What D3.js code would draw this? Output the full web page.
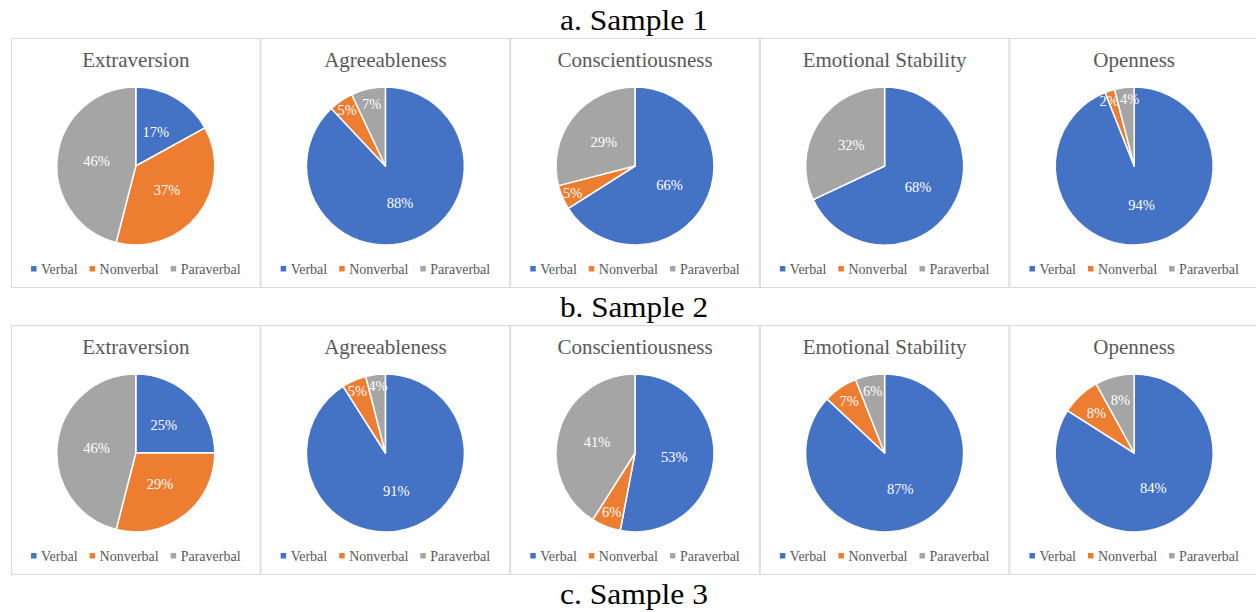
<!DOCTYPE html>
<html><head><meta charset="utf-8">
<script src="https://cdn.jsdelivr.net/npm/d3@7"></script>
<style>body{margin:0;background:#fff}svg{display:block}</style>
</head><body>
<svg id="c" width="1256" height="612"></svg>
<script>
const captions = ["a. Sample 1", "b. Sample 2", "c. Sample 3"];
const traits = ["Extraversion", "Agreeableness", "Conscientiousness", "Emotional Stability", "Openness"];
const categories = ["Verbal", "Nonverbal", "Paraverbal"];
const colors = ["#4472C4", "#ED7D31", "#A5A5A5"];
// Sample 1 (row 1) values in %, order Verbal, Nonverbal, Paraverbal
const sample1 = [[17, 37, 46], [88, 5, 7], [66, 5, 29], [68, 0, 32], [94, 2, 4]];
// Sample 2 (row 2)
const sample2 = [[25, 29, 46], [91, 5, 4], [53, 6, 41], [87, 7, 6], [84, 8, 8]];
const rows = [sample1, sample2];

const svg = d3.select("#c");
const font = "Liberation Serif, Times New Roman, serif";
const x0 = 11, pw = 249.6, ph = 249, rowTops = [38, 325], R = 79;
const captionY = [30, 317, 604];

captions.forEach((t, i) => {
  svg.append("text").attr("x", 634).attr("y", captionY[i])
    .attr("text-anchor", "middle").attr("font-family", font)
    .attr("font-size", 30).attr("fill", "#000")
    .attr("textLength", 148).attr("lengthAdjust", "spacingAndGlyphs")
    .text(t);
});

const pie = d3.pie().sort(null).value(d => d);
const arc = d3.arc().innerRadius(0).outerRadius(R);

rows.forEach((data, ri) => {
  data.forEach((vals, ci) => {
    const px = x0 + ci * pw, py = rowTops[ri];
    const g = svg.append("g").attr("transform", `translate(${px},${py})`);
    g.append("rect").attr("x", 0.5).attr("y", 0.5).attr("width", pw - 1).attr("height", ph)
      .attr("fill", "#fff").attr("stroke", "#d9d9d9").attr("stroke-width", 1);
    const cx = pw / 2;
    g.append("text").attr("x", cx).attr("y", 29).attr("text-anchor", "middle")
      .attr("font-family", font).attr("font-size", 21).attr("fill", "#595959").text(traits[ci]);
    const pg = g.append("g").attr("transform", `translate(${cx},128)`);
    const arcs = pie(vals);
    pg.selectAll("path").data(arcs).join("path")
      .attr("d", arc).attr("fill", (d, i) => colors[i])
      .attr("stroke", "#fff").attr("stroke-width", 1.5).attr("stroke-linejoin", "round");
    const total = d3.sum(vals);
    const labs = arcs.filter(d => d.data > 0).map(d => {
      const frac = d.data / total;
      const k = frac >= 0.15 ? 0.5 : (frac >= 0.075 ? 0.7 : (frac >= 0.06 ? 0.8 : 0.86));
      const a = (d.startAngle + d.endAngle) / 2;
      return {d, x: Math.sin(a) * R * k, y: -Math.cos(a) * R * k};
    });
    const texts = pg.selectAll("text").data(labs).join("text")
      .attr("dy", "0.35em").attr("text-anchor", "middle")
      .attr("font-family", font).attr("font-size", 14.5).attr("fill", "#fff")
      .text(l => l.d.data + "%");
    texts.each(function(l) { l.w = this.getComputedTextLength(); });
    // nudge apart overlapping neighbours
    for (let i = 0; i < labs.length; i++) for (let j = i + 1; j < labs.length; j++) {
      const A = labs[i], B = labs[j];
      if (Math.abs(A.y - B.y) < 14) {
        const need = (A.w + B.w) / 2 + 1, dx = B.x - A.x;
        if (Math.abs(dx) < need) {
          const s = (need - Math.abs(dx)) / 2, sg = dx >= 0 ? 1 : -1;
          A.x -= s * sg; B.x += s * sg;
        }
      }
    }
    texts.attr("transform", l => `translate(${l.x},${l.y})`);
    // legend
    const lg = g.append("g").attr("transform", `translate(0,231)`);
    const items = categories.map((c, i) => {
      const it = lg.append("g");
      it.append("rect").attr("x", 0).attr("y", -3).attr("width", 5.5).attr("height", 5.5).attr("fill", colors[i]);
      const t = it.append("text").attr("x", 10).attr("dy", "0.35em")
        .attr("font-family", font).attr("font-size", 14).attr("fill", "#595959").text(c);
      return {it, w: 10 + t.node().getComputedTextLength()};
    });
    const gap = 12;
    const tw = d3.sum(items, d => d.w) + gap * (items.length - 1);
    let xx = cx - tw / 2;
    items.forEach(d => { d.it.attr("transform", `translate(${xx},0)`); xx += d.w + gap; });
  });
});
</script>
</body></html>
